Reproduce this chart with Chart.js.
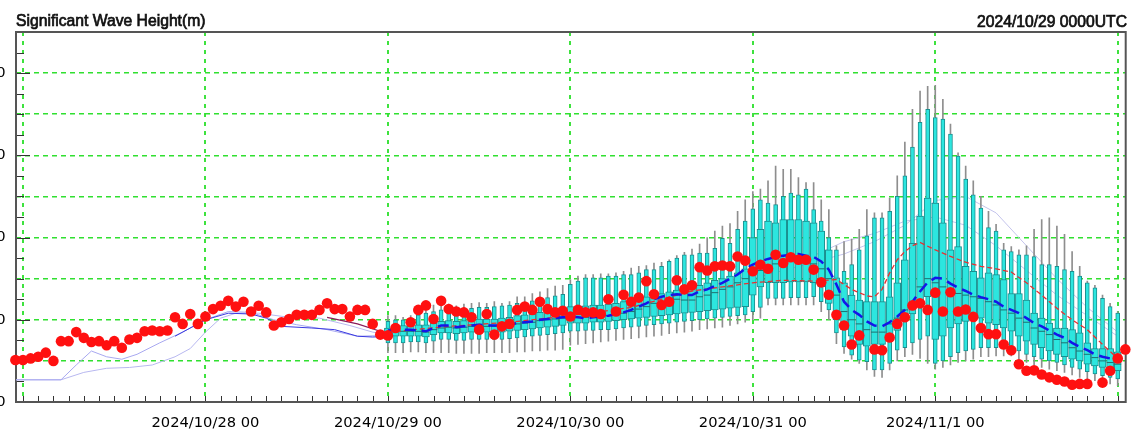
<!DOCTYPE html>
<html>
<head>
<meta charset="utf-8">
<script src="https://cdn.jsdelivr.net/npm/chart.js@4.4.1/dist/chart.umd.min.js"></script>
<style>
  html, body { margin: 0; padding: 0; background: #fff; }
  #chart { display: block; }
</style>
</head>
<body>
<canvas id="chart" width="1131" height="431"></canvas>
<script>
// Significant wave height, hours counted from 2024/10/27 00UTC

const OBS_START = -1;   // first observation hour
const ENS_START = 48;   // first ensemble box hour (2024/10/29 00)

// ── observations (red dots), hourly from h=-1 ───────────────────────────────
const obsHeight = [
  0.51,0.51,0.53,0.55,0.60,0.50,0.74,0.74,0.85,0.78,0.73,0.74,0.69,0.74,0.66,0.76,0.78,0.86,0.87,0.86,
  0.87,1.03,0.95,1.07,0.95,1.04,1.13,1.17,1.23,1.16,1.22,1.10,1.17,1.09,0.93,0.97,1.01,1.06,1.06,1.06,
  1.12,1.20,1.13,1.13,1.04,1.12,1.12,0.95,0.82,0.81,
  0.90,null,0.97,1.12,1.175,1.01,1.23,1.13,1.10,1.09,1.03,0.88,1.07,0.82,0.92,0.95,1.12,1.16,1.12,1.22,
  1.13,1.09,1.11,1.04,1.12,1.09,1.09,1.07,1.25,1.10,1.305,1.22,1.27,1.47,1.31,1.18,1.22,1.48,1.37,1.42,
  1.64,1.60,1.65,1.66,1.65,1.77,1.72,1.59,1.67,1.62,1.79,1.69,1.76,1.73,1.73,1.61,1.455,1.305,1.06,0.93,
  0.70,0.81,null,0.64,0.63,0.785,0.95,1.03,1.175,1.20,1.12,1.33,1.10,1.335,1.10,1.125,1.035,0.90,0.825,0.825,
  0.70,0.63,0.46,0.38,0.385,0.335,0.30,0.27,0.25,0.21,0.22,0.22,null,0.236,0.38,0.53,0.64
];

// ── ensemble statistics, hourly from h=48 to h=144 ──────────────────────────
const ensMin = [
  0.60,0.60,0.60,0.61,0.61,0.60,0.60,0.60,0.60,0.59,0.59,0.59,0.59,0.60,0.60,0.60,0.60,0.61,0.61,0.62,0.62,0.63,0.63,0.64,
  0.69,0.70,0.71,0.72,0.73,0.74,0.75,0.76,0.77,0.78,0.79,0.80,0.81,0.83,0.84,0.85,0.86,0.88,0.89,0.90,0.91,0.93,0.95,0.97,1.00,1.02,
  1.18,1.18,1.18,1.18,1.18,1.18,1.18,1.10,1.00,0.71,0.59,0.52,0.47,0.39,0.31,0.30,0.39,0.50,0.55,0.58,0.53,0.47,
  0.40,0.42,0.45,0.48,0.50,0.52,0.55,0.55,0.56,0.56,0.56,0.52,0.48,0.45,0.42,0.40,0.38,0.36,0.33,0.30,0.28,0.26,0.24,0.22,0.20
];
const ensP10 = [
  0.72,0.72,0.72,0.73,0.73,0.72,0.74,0.76,0.76,0.75,0.75,0.76,0.76,0.76,0.76,0.76,0.77,0.78,0.79,0.80,0.81,0.82,0.83,0.84,
  0.86,0.86,0.87,0.87,0.88,0.88,0.89,0.90,0.91,0.92,0.93,0.94,0.95,0.96,0.97,0.98,0.99,1.00,1.01,1.02,1.03,1.04,1.05,1.06,1.10,1.15,
  1.26,1.26,1.26,1.27,1.27,1.27,1.28,1.22,1.12,0.84,0.67,0.57,0.51,0.49,0.39,0.39,0.47,0.63,0.66,0.72,0.76,0.80,
  0.47,0.50,0.55,0.60,0.62,0.64,0.66,0.66,0.66,0.66,0.64,0.62,0.58,0.55,0.52,0.50,0.48,0.45,0.42,0.40,0.37,0.34,0.32,0.30,0.28
];
const ensP25 = [
  0.78,0.80,0.80,0.80,0.80,0.79,0.82,0.84,0.84,0.83,0.84,0.85,0.85,0.85,0.85,0.85,0.86,0.87,0.88,0.89,0.90,0.91,0.92,0.93,
  0.96,0.96,0.96,0.97,0.97,0.98,0.99,1.00,1.01,1.02,1.03,1.04,1.05,1.06,1.07,1.08,1.09,1.10,1.11,1.12,1.13,1.14,1.15,1.16,1.30,1.40,
  1.45,1.45,1.45,1.46,1.46,1.46,1.45,1.40,1.20,1.00,0.88,0.80,0.70,0.68,0.70,0.70,0.82,0.87,1.00,1.07,1.20,1.28,
  0.76,0.80,0.90,0.95,0.98,1.00,1.02,0.96,0.94,0.90,0.86,0.80,0.74,0.70,0.66,0.62,0.58,0.55,0.52,0.50,0.46,0.44,0.42,0.40,0.38
];
const ensMedian = [
  0.84,0.86,0.86,0.86,0.86,0.85,0.88,0.90,0.91,0.90,0.91,0.92,0.93,0.92,0.92,0.92,0.93,0.95,0.96,0.97,0.99,1.00,1.01,1.02,
  1.03,1.03,1.03,1.04,1.04,1.05,1.07,1.08,1.10,1.13,1.16,1.20,1.22,1.24,1.25,1.24,1.24,1.28,1.30,1.33,1.37,1.40,1.45,1.50,1.55,1.60,
  1.65,1.68,1.70,1.72,1.72,1.70,1.68,1.62,1.50,1.30,1.10,1.00,0.95,0.88,0.85,0.85,0.95,1.02,1.12,1.20,1.40,1.50,
  1.45,1.40,1.35,1.32,1.30,1.28,1.26,1.22,1.18,1.12,1.08,1.02,0.97,0.90,0.86,0.82,0.76,0.72,0.66,0.62,0.58,0.54,0.50,0.48,0.46
];
const ensP75 = [
  0.90,0.92,0.93,0.93,0.94,0.94,0.96,0.98,0.99,0.98,0.99,1.00,1.01,1.01,1.01,1.02,1.03,1.05,1.06,1.07,1.09,1.10,1.11,1.13,
  1.16,1.17,1.17,1.18,1.18,1.19,1.20,1.22,1.24,1.26,1.28,1.30,1.32,1.34,1.36,1.38,1.40,1.42,1.45,1.48,1.50,1.53,1.57,1.62,2.00,2.10,
  2.20,2.18,2.22,2.22,2.22,2.20,2.18,2.08,1.85,1.51,1.45,1.30,1.24,1.22,1.22,1.22,1.28,1.45,1.73,1.93,2.26,2.48,
  2.42,2.18,1.85,1.89,1.65,1.59,1.51,1.57,1.55,1.49,1.32,1.32,1.24,1.08,1.02,0.96,0.90,0.90,0.88,0.84,0.72,0.65,0.65,0.65,0.61
];
const ensP90 = [
  0.98,1.00,1.00,1.02,1.06,1.08,1.10,1.12,1.12,1.12,1.13,1.14,1.15,1.15,1.16,1.17,1.18,1.20,1.21,1.23,1.25,1.27,1.29,1.31,
  1.43,1.47,1.51,1.51,1.51,1.53,1.53,1.55,1.55,1.57,1.61,1.61,1.65,1.71,1.75,1.79,1.79,1.81,1.81,1.87,1.99,1.93,2.10,2.20,2.35,2.46,
  2.42,2.40,2.50,2.54,2.52,2.59,2.34,2.20,2.00,1.85,1.59,1.67,1.85,2.02,2.24,2.24,2.32,2.50,2.75,3.10,3.40,3.56,
  3.46,3.44,3.26,2.99,2.71,2.52,2.36,2.12,2.08,1.85,1.83,1.79,1.79,1.77,1.67,1.67,1.65,1.61,1.59,1.53,1.45,1.39,1.26,1.16,1.08
];
const ensMax = [
  1.05,1.05,1.03,1.05,1.10,1.16,1.18,1.20,1.19,1.17,1.19,1.20,1.21,1.20,1.22,1.20,1.22,1.28,1.28,1.32,1.34,1.38,1.41,1.42,
  1.49,1.53,1.55,1.55,1.56,1.56,1.57,1.59,1.63,1.65,1.66,1.69,1.70,1.73,1.78,1.82,1.86,1.92,2.00,2.08,2.14,2.17,2.32,2.46,2.56,2.59,
  2.69,2.87,2.83,2.83,2.73,2.67,2.67,2.46,2.34,1.90,1.95,1.98,2.10,2.34,2.30,2.30,2.48,2.75,3.16,3.56,3.78,3.84,
  3.85,3.68,3.38,3.03,2.87,2.69,2.50,2.32,2.16,1.93,1.89,1.85,1.90,2.10,2.22,2.24,2.14,2.04,1.83,1.65,1.47,1.42,1.30,1.20,1.10
];
const ensMean = [
  0.87,0.88,0.88,0.88,0.87,0.86,0.90,0.93,0.93,0.91,0.92,0.93,0.94,0.93,0.93,0.93,0.94,0.96,0.97,0.98,1.00,1.01,1.02,1.03,
  1.04,1.03,1.02,1.03,1.04,1.05,1.07,1.09,1.12,1.16,1.20,1.25,1.28,1.30,1.31,1.30,1.30,1.345,1.37,1.41,1.45,1.50,1.55,1.62,1.67,1.71,
  1.74,1.765,1.78,1.79,1.80,1.78,1.765,1.71,1.61,1.43,1.22,1.12,1.06,0.98,0.93,0.92,0.97,1.04,1.12,1.22,1.345,1.455,
  1.51,1.50,1.44,1.39,1.35,1.305,1.276,1.25,1.22,1.16,1.12,1.08,1.02,0.96,0.92,0.87,0.82,0.78,0.72,0.67,0.63,0.58,0.55,0.53,0.52
];

// ── control run (thin red dashed) ───────────────────────────────────────────
const ctlHours  = [48,56,64,72,80,88,96,100,104,107,109,111,112,113,114,115,116,117,118,120,122,124,126,128,130,132,134,136,138,140,142,144];
const ctlHeight = [0.85,0.92,0.97,1.05,1.15,1.35,1.45,1.48,1.47,1.49,1.37,1.29,1.28,1.37,1.57,1.73,1.83,1.90,1.94,1.85,1.77,1.70,1.65,1.62,1.58,1.45,1.30,1.14,1.00,0.88,0.70,0.53];

// ── hindcast lines before the initial time ──────────────────────────────────
const hindAHours = [-1,5,8,11,14,17,20,22,24,26,28,31,35,39,43,46,48];
const hindA      = [0.27,0.27,0.36,0.41,0.42,0.45,0.55,0.65,0.85,1.02,1.08,1.08,1.03,1.02,0.93,0.85,0.82];
const hindBHours = [-1,5,7,9,11,13,15,18,21,24,27,30,33,36,40,44,48];
const hindB      = [0.27,0.27,0.45,0.62,0.55,0.52,0.58,0.72,0.85,1.00,1.10,1.09,1.00,0.94,0.88,0.80,0.81];
const hindCHours = [20,24,27,30,32,34,38,41,44,46,48];
const hindC      = [0.80,1.00,1.08,1.07,1.02,0.92,0.90,0.88,0.80,0.79,0.80];
const hindDHours = [40,44,48];
const hindD      = [1.03,0.95,0.83];

// ── earlier forecasts (faint lines) ─────────────────────────────────────────
const prevHours = [48,60,72,84,96,104,108,112,116,120,124,128,132,136,140,144];
const prevA     = [0.84,0.92,1.02,1.22,1.50,1.70,1.80,1.95,2.15,2.45,2.50,2.30,1.90,1.50,1.15,0.85];
const prevB     = [0.86,0.93,1.04,1.25,1.55,1.78,1.95,2.05,2.20,2.25,2.15,1.90,1.60,1.30,1.05,0.80];

// ── axes ────────────────────────────────────────────────────────────────────
const dayTicks  = [0, 24, 48, 72, 96, 120, 144];
const dayLabels = ['', '2024/10/28 00', '2024/10/29 00', '2024/10/30 00', '2024/10/31 00', '2024/11/1 00', ''];
const yGrid     = [0, 0.5, 1, 1.5, 2, 2.5, 3, 3.5, 4, 4.5];
const yMinor    = [0.25, 0.75, 1.25, 1.75, 2.25, 2.75, 3.25, 3.75, 4.25];

const pairs = (hours, vals) => vals.map((v, i) => ({ x: hours[i], y: v }));
const series = (start, vals) => vals.map((v, i) => ({ x: start + i, y: v }));
const floating = (lo, hi) => lo.map((v, i) => ({ x: ENS_START + i, y: [v, hi[i]] }));

// frame, inward tick marks and the two header texts
const decorations = {
  id: 'decorations',
  beforeDatasetsDraw(chart) {
    const { ctx, chartArea: a, scales: { x, y } } = chart;
    ctx.save();
    ctx.strokeStyle = '#333';
    ctx.lineWidth = 1;
    yGrid.concat(yMinor).forEach(v => {
      const py = Math.round(y.getPixelForValue(v)) + 0.5;
      const len = Number.isInteger(v) ? 14 : 8;
      ctx.beginPath(); ctx.moveTo(a.left, py); ctx.lineTo(a.left + len, py); ctx.stroke();
    });
    for (let h = 0; h <= 144; h += 2) {
      const px = Math.round(x.getPixelForValue(h)) + 0.5;
      ctx.beginPath(); ctx.moveTo(px, a.bottom); ctx.lineTo(px, a.bottom - 6); ctx.stroke();
    }
    ctx.strokeStyle = '#555';
    ctx.lineWidth = 2;
    ctx.strokeRect(a.left, a.top, a.right - a.left, a.bottom - a.top);
    ctx.restore();
  },
  afterDraw(chart) {
    const { ctx } = chart;
    ctx.save();
    ctx.fillStyle = '#111';
    ctx.strokeStyle = '#111';
    ctx.lineWidth = 0.7;
    ctx.font = '15.7px "Liberation Sans", Arial, sans-serif';
    ctx.textBaseline = 'alphabetic';
    ctx.textAlign = 'left';
    ctx.fillText('Significant Wave Height(m)', 16, 26);
    ctx.strokeText('Significant Wave Height(m)', 16, 26);
    ctx.textAlign = 'right';
    ctx.fillText('2024/10/29 0000UTC', 1127, 27);
    ctx.strokeText('2024/10/29 0000UTC', 1127, 27);
    ctx.restore();
  }
};

const tickFont = { family: '"DejaVu Sans", sans-serif', size: 14.7 };

new Chart(document.getElementById('chart'), {
  type: 'bar',
  data: {
    datasets: [
      { type: 'scatter', data: series(OBS_START, obsHeight), pointRadius: 5.3, backgroundColor: '#ff1010',
        borderWidth: 0, clip: false, order: 0 },
      { type: 'line', data: series(ENS_START, ensMean), borderColor: '#1515e8', borderWidth: 2.5,
        borderDash: [11, 6], pointRadius: 0, order: 1 },
      { type: 'line', data: pairs(ctlHours, ctlHeight), borderColor: '#e83030', borderWidth: 1.3,
        borderDash: [5, 3], pointRadius: 0, order: 2 },
      { type: 'scatter', data: series(ENS_START, ensMedian), pointStyle: 'line', pointRadius: 3.5,
        borderColor: '#1f7070', borderWidth: 1, order: 3 },
      { data: floating(ensP25, ensP75), backgroundColor: '#2ce6df', borderColor: '#1c8f8f', borderWidth: 1,
        borderSkipped: false, barThickness: 7, grouped: false, order: 4 },
      { data: floating(ensP10, ensP90), backgroundColor: '#2ce6df', borderColor: '#1c8f8f', borderWidth: 1,
        borderSkipped: false, barThickness: 4, grouped: false, order: 5 },
      { data: floating(ensMin, ensMax), backgroundColor: '#8e8e8e', borderWidth: 0,
        barThickness: 1, grouped: false, order: 6 },
      { type: 'line', data: pairs(prevHours, prevA), borderColor: '#c4c4ec', borderWidth: 1, pointRadius: 0, order: 7 },
      { type: 'line', data: pairs(prevHours, prevB), borderColor: '#c4c4ec', borderWidth: 1, pointRadius: 0, order: 7 },
      { type: 'line', data: pairs(hindDHours, hindD), borderColor: '#8a1c5a', borderWidth: 1.2, pointRadius: 0, order: 7 },
      { type: 'line', data: pairs(hindCHours, hindC), borderColor: '#3a3ae0', borderWidth: 1, pointRadius: 0, order: 8 },
      { type: 'line', data: pairs(hindBHours, hindB), borderColor: '#a8a8f0', borderWidth: 1, pointRadius: 0, order: 8 },
      { type: 'line', data: pairs(hindAHours, hindA), borderColor: '#b8b8f0', borderWidth: 1, pointRadius: 0, order: 8 }
    ]
  },
  options: {
    responsive: false,
    devicePixelRatio: 1,
    animation: false,
    events: [],
    layout: { padding: { top: 32, right: 3, left: 0, bottom: 0 } },
    plugins: { legend: { display: false }, tooltip: { enabled: false } },
    scales: {
      x: {
        type: 'linear', min: -0.92, max: 145.05, offset: false,
        afterBuildTicks: s => { s.ticks = dayTicks.map(v => ({ value: v })); },
        afterFit: s => { s.height = 29; },
        ticks: { font: tickFont, color: '#000', padding: 12.5, maxRotation: 0, autoSkip: false,
          callback: v => dayLabels[dayTicks.indexOf(v)] },
        grid: { offset: false, drawTicks: false, lineWidth: 2, color: '#3ee23e' },
        border: { display: false, dash: [4, 5] }
      },
      y: {
        min: 0, max: 4.5,
        afterBuildTicks: s => { s.ticks = yGrid.map(v => ({ value: v })); },
        afterFit: s => { s.width = 16; },
        ticks: { font: tickFont, color: '#000', padding: 10.5, autoSkip: false,
          callback: v => Number.isInteger(v) ? v.toFixed(1) : '' },
        grid: { drawTicks: false, lineWidth: 1.5,
          color: c => (c.tick && c.tick.value > 0 && c.tick.value < 4.5) ? '#30e030' : 'rgba(0,0,0,0)' },
        border: { display: false, dash: [5, 4] }
      }
    }
  },
  plugins: [decorations]
});
</script>
</body>
</html>
